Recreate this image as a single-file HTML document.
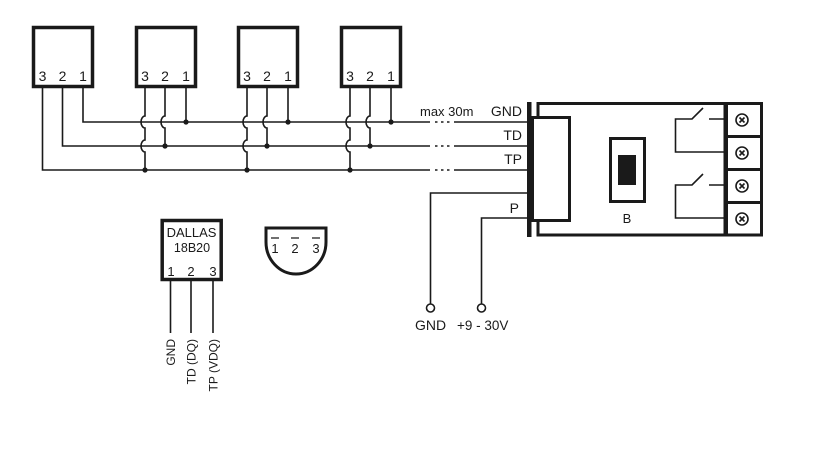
<!DOCTYPE html>
<html>
<head>
<meta charset="utf-8">
<style>
  html,body{margin:0;padding:0;background:#fff;}
  svg{display:block;}
  text{font-family:"Liberation Sans",sans-serif;fill:#1a1a1a;}
</style>
</head>
<body>
<svg width="832" height="475" viewBox="0 0 832 475" xmlns="http://www.w3.org/2000/svg">
  <g fill="none" stroke="#1a1a1a">
    <!-- sensor boxes -->
    <g stroke-width="3.5">
      <rect x="33.5" y="27.5" width="59" height="59"/>
      <rect x="136.5" y="27.5" width="59" height="59"/>
      <rect x="238.5" y="27.5" width="59" height="59"/>
      <rect x="341.5" y="27.5" width="59" height="59"/>
    </g>
    <g stroke-width="1.6">
      <!-- box 1 wires -->
      <path d="M83,88 V122 H430"/>
      <path d="M62.5,88 V146 H430"/>
      <path d="M42.5,88 V170 H430"/>
      <path d="M454,122 H527"/>
      <path d="M454,146 H527"/>
      <path d="M454,170 H527"/>
      <!-- dashes -->
      <path d="M435,122 h2.5 M441,122 h2.5 M447,122 h2.5"/>
      <path d="M435,146 h2.5 M441,146 h2.5 M447,146 h2.5"/>
      <path d="M435,170 h2.5 M441,170 h2.5 M447,170 h2.5"/>
      <!-- box 2 -->
      <path d="M186,88 V122"/>
      <path d="M165,88 V116 A4,6 0 0 0 165,128 V146"/>
      <path d="M145,88 V116 A4,6 0 0 0 145,128 V140 A4,6 0 0 0 145,152 V170"/>
      <!-- box 3 -->
      <path d="M288,88 V122"/>
      <path d="M267,88 V116 A4,6 0 0 0 267,128 V146"/>
      <path d="M247,88 V116 A4,6 0 0 0 247,128 V140 A4,6 0 0 0 247,152 V170"/>
      <!-- box 4 -->
      <path d="M391,88 V122"/>
      <path d="M370,88 V116 A4,6 0 0 0 370,128 V146"/>
      <path d="M350,88 V116 A4,6 0 0 0 350,128 V140 A4,6 0 0 0 350,152 V170"/>
      <!-- power leads -->
      <path d="M527,193 H430.5 V304"/>
      <path d="M527,218 H481.5 V304"/>
      <circle cx="430.5" cy="308" r="4"/>
      <circle cx="481.5" cy="308" r="4"/>
      <!-- relays -->
      <path d="M725,119 H709 M703,108 L692,119 H675.5 V152 H725"/>
      <path d="M725,185 H709 M703,174 L692,185 H675.5 V218 H725"/>
      <!-- terminal circles -->
      <circle cx="742" cy="120" r="6"/>
      <circle cx="742" cy="153" r="6"/>
      <circle cx="742" cy="186" r="6"/>
      <circle cx="742" cy="219" r="6"/>
      <path d="M739.5,117.5 l5,5 M744.5,117.5 l-5,5"/>
      <path d="M739.5,150.5 l5,5 M744.5,150.5 l-5,5"/>
      <path d="M739.5,183.5 l5,5 M744.5,183.5 l-5,5"/>
      <path d="M739.5,216.5 l5,5 M744.5,216.5 l-5,5"/>
      <!-- DALLAS pins -->
      <path d="M170.5,281 V333 M191,281 V333 M213,281 V333"/>
      <!-- TO92 overbars -->
      <path d="M271,238 h8 M291,238 h8 M312,238 h8" stroke-width="1.2"/>
    </g>
    <!-- dots -->
    <g fill="#1a1a1a" stroke="none">
      <circle cx="186" cy="122" r="2.6"/>
      <circle cx="165" cy="146" r="2.6"/>
      <circle cx="145" cy="170" r="2.6"/>
      <circle cx="288" cy="122" r="2.6"/>
      <circle cx="267" cy="146" r="2.6"/>
      <circle cx="247" cy="170" r="2.6"/>
      <circle cx="391" cy="122" r="2.6"/>
      <circle cx="370" cy="146" r="2.6"/>
      <circle cx="350" cy="170" r="2.6"/>
    </g>
    <!-- module -->
    <g stroke-width="3">
      <rect x="538" y="103.5" width="187" height="131.5"/>
      <rect x="532.5" y="117.5" width="37" height="103" fill="#fff"/>
      <rect x="726.5" y="103.5" width="35" height="131.5"/>
      <path d="M725,136.5 H763 M725,169.5 H763 M725,202.5 H763"/>
      <rect x="610.5" y="138.5" width="34" height="63"/>
      <rect x="162.2" y="220.5" width="59" height="59" stroke-width="3.5"/>
      <path d="M266,228 H326 V242 A30,32 0 0 1 266,242 Z"/>
    </g>
    <rect x="527" y="102" width="4.5" height="135" fill="#1a1a1a" stroke="none"/>
    <rect x="618" y="155" width="18" height="30" fill="#1a1a1a" stroke="none"/>
  </g>

  <g font-size="14" text-anchor="middle">
    <text x="42.5" y="81">3</text><text x="62.5" y="81">2</text><text x="83" y="81">1</text>
    <text x="145" y="81">3</text><text x="165" y="81">2</text><text x="186" y="81">1</text>
    <text x="247" y="81">3</text><text x="267" y="81">2</text><text x="288" y="81">1</text>
    <text x="350" y="81">3</text><text x="370" y="81">2</text><text x="391" y="81">1</text>
    <text x="191.5" y="237" font-size="13">DALLAS</text>
    <text x="192" y="252" font-size="12.5">18B20</text>
    <text x="171" y="276" font-size="13">1</text><text x="191" y="276" font-size="13">2</text><text x="213" y="276" font-size="13">3</text>
    <text x="275" y="253" font-size="13">1</text><text x="295" y="253" font-size="13">2</text><text x="316" y="253" font-size="13">3</text>
    <text x="627" y="223" font-size="13">B</text>
  </g>
  <g font-size="13">
    <text x="420" y="116">max 30m</text>
    <text x="522" y="116" text-anchor="end" font-size="14">GND</text>
    <text x="522" y="140" text-anchor="end" font-size="14">TD</text>
    <text x="522" y="164" text-anchor="end" font-size="14">TP</text>
    <text x="519" y="213" text-anchor="end" font-size="14">P</text>
    <text x="415" y="330" font-size="14">GND</text>
    <text x="457" y="330" font-size="13.5">+9 - 30V</text>
  </g>
  <g font-size="12" text-anchor="end">
    <text transform="translate(175,339) rotate(-90)">GND</text>
    <text transform="translate(195.5,339) rotate(-90)">TD (DQ)</text>
    <text transform="translate(217.5,339) rotate(-90)">TP (VDQ)</text>
  </g>
</svg>
</body>
</html>
